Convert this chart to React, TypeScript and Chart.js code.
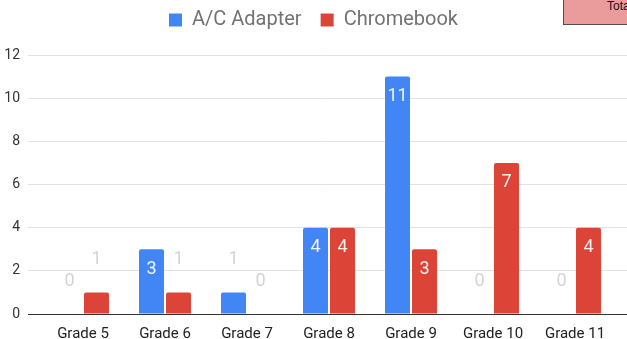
import React, { useEffect, useRef } from "react";
import { Chart, registerables } from "chart.js";

Chart.register(...registerables);

// Checked-out equipment per grade
const grades = ["Grade 5", "Grade 6", "Grade 7", "Grade 8", "Grade 9", "Grade 10", "Grade 11"];
const acAdapter = [0, 3, 1, 4, 11, 0, 0];
const chromebook = [1, 1, 0, 4, 3, 7, 4];
const yMax = 12;
const yStep = 2;

const BLUE = "#4285f4";
const RED = "#db4437";
const FONT = "Roboto";

// Value labels: white inside tall bars, pale grey above short ones
const valueLabels = {
  id: "valueLabels",
  afterDatasetsDraw(chart: any) {
    const ctx = chart.ctx;
    ctx.save();
    ctx.font = `18px ${FONT}`;
    ctx.textAlign = "center";
    ctx.textBaseline = "middle";
    chart.data.datasets.forEach((ds: any, di: number) => {
      const meta = chart.getDatasetMeta(di);
      meta.data.forEach((bar: any, i: number) => {
        const v = ds.data[i].y;
        const { x, y, base } = bar.getProps(["x", "y", "base"], true);
        if (base - y > 30) {
          ctx.fillStyle = "rgba(255,255,255,0.92)";
          ctx.fillText(String(v), x, y + 20);
        } else {
          ctx.fillStyle = "#d4d4d4";
          ctx.fillText(String(v), x, y - 33);
        }
      });
    });
    ctx.restore();
  },
};

// Extra room between the legend row and the plot
const legendSpacing = {
  id: "legendSpacing",
  beforeInit(chart: any) {
    const legend = chart.legend;
    if (!legend) return;
    const fit = legend.fit;
    legend.fit = function () {
      fit.call(this);
      this.height += 15;
    };
  },
};

export default function App() {
  const canvasRef = useRef<HTMLCanvasElement | null>(null);

  useEffect(() => {
    if (!canvasRef.current) return;
    const chart = new Chart(canvasRef.current, {
      type: "bar",
      data: {
        datasets: [
          {
            label: "A/C Adapter",
            data: acAdapter.map((v, i) => ({ x: i, y: v })),
            backgroundColor: BLUE,
            borderRadius: 2,
            borderSkipped: "start",
            categoryPercentage: 54 / 82,
            barPercentage: 25 / 27,
          },
          {
            label: "Chromebook",
            data: chromebook.map((v, i) => ({ x: i, y: v })),
            backgroundColor: RED,
            borderRadius: 2,
            borderSkipped: "start",
            categoryPercentage: 54 / 82,
            barPercentage: 25 / 27,
          },
        ],
      },
      options: {
        animation: false,
        responsive: false,
        maintainAspectRatio: false,
        layout: { padding: { top: -9, left: 0, right: 0, bottom: 0 } },
        plugins: {
          tooltip: { enabled: false },
          legend: {
            position: "top",
            align: "center",
            labels: {
              boxWidth: 13,
              boxHeight: 13,
              padding: 19,
              color: "#727272",
              font: { family: FONT, size: 20 },
            },
          },
        },
        scales: {
          x: {
            type: "linear",
            min: -0.6707,
            max: 6.634,
            offset: false,
            grid: { display: false, offset: false },
            border: { display: true, color: "#333333", width: 1 },
            afterBuildTicks: (axis: any) => {
              axis.ticks = grades.map((_, i) => ({ value: i }));
            },
            afterFit: (axis: any) => {
              axis.height = 25;
            },
            ticks: {
              autoSkip: false,
              maxRotation: 0,
              padding: 3,
              color: "#222222",
              font: { family: FONT, size: 15 },
              callback: (v: any) => grades[v as number] ?? "",
            },
          },
          y: {
            min: 0,
            max: yMax,
            grid: {
              drawTicks: false,
              color: (c: any) => (c.tick && c.tick.value === 0 ? "#333333" : "#e2e2e2"),
            },
            border: { display: false },
            afterFit: (axis: any) => {
              axis.width = 28;
            },
            ticks: {
              stepSize: yStep,
              padding: 8,
              color: "#333333",
              font: { family: FONT, size: 14 },
            },
          },
        },
      },
      plugins: [valueLabels, legendSpacing],
    } as any);
    return () => chart.destroy();
  }, []);

  return (
    <div
      style={{
        position: "fixed",
        left: 0,
        top: 0,
        width: 627,
        height: 339,
        overflow: "hidden",
        background: "#ffffff",
      }}
    >
      <canvas ref={canvasRef} width={627} height={339} style={{ display: "block" }} />
      <div
        style={{
          position: "absolute",
          left: 563,
          top: -12,
          width: 90,
          height: 37,
          boxSizing: "border-box",
          background: "#ea9c9c",
          border: "1px solid #5a4a4a",
        }}
      />
      <span
        style={{
          position: "absolute",
          left: 607,
          top: 0,
          font: "12px 'Liberation Sans', Arial, sans-serif",
          lineHeight: "12px",
          color: "#111111",
          whiteSpace: "nowrap",
        }}
      >
        Total
      </span>
    </div>
  );
}
